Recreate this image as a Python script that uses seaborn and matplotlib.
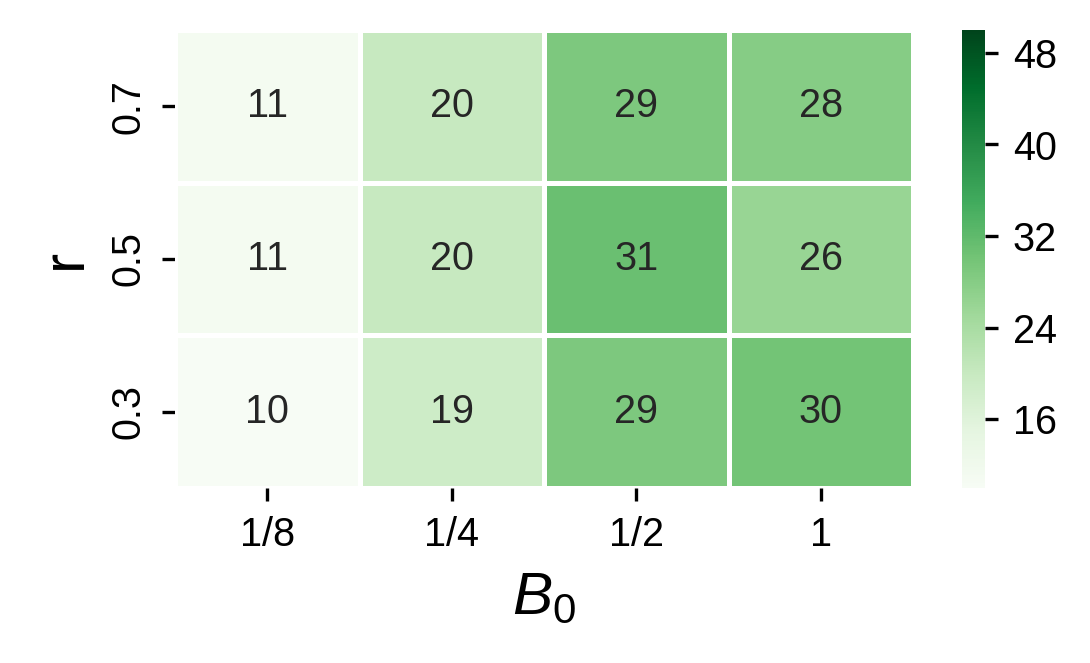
import numpy as np
import pandas as pd
import matplotlib
matplotlib.use("Agg")
import matplotlib.pyplot as plt
import seaborn as sns

# values
r_labels = ["0.7", "0.5", "0.3"]
b0_labels = ["1/8", "1/4", "1/2", "1"]
row_07 = [11, 20, 29, 28]
row_05 = [11, 20, 31, 26]
row_03 = [10, 19, 29, 30]

df = pd.DataFrame([row_07, row_05, row_03], index=r_labels, columns=b0_labels)

sns.set_style("ticks")
plt.rcParams['font.family'] = ['Liberation Sans', 'DejaVu Sans']
plt.rcParams['mathtext.fontset'] = 'custom'
plt.rcParams['mathtext.rm'] = 'Liberation Sans'
plt.rcParams['mathtext.it'] = 'Liberation Sans:italic'
plt.rcParams['text.color'] = 'black'
plt.rcParams['axes.labelcolor'] = 'black'
plt.rcParams['xtick.color'] = 'black'
plt.rcParams['ytick.color'] = 'black'

fig = plt.figure(figsize=(1090 / 300, 663 / 300), dpi=300)
ax = fig.add_axes([175 / 1090, 1 - 488 / 663, (913 - 175) / 1090, (488 - 30) / 663])
cax = fig.add_axes([962 / 1090, 1 - 488 / 663, 23 / 1090, (488 - 30) / 663])

sns.heatmap(df, ax=ax, cbar_ax=cax, cmap="Greens", vmin=10, vmax=50,
            annot=True, fmt="d", annot_kws={"size": 9.5},
            linewidths=1.2, linecolor="white")

ax.set_xlabel(r"$B_0$", fontsize=14.5)
ax.set_ylabel("r", fontsize=14.5)
ax.tick_params(axis="both", labelsize=9.5, length=3.2, width=0.8)
ax.set_yticklabels(r_labels, rotation=90, va="center")
ax.set_xticklabels(b0_labels, rotation=0)

cbar = ax.collections[0].colorbar
cbar.outline.set_visible(False)
cbar.set_ticks([16, 24, 32, 40, 48])
cax.tick_params(labelsize=9.5, length=3.2, width=0.8)

fig.savefig("out.png", dpi=300)
